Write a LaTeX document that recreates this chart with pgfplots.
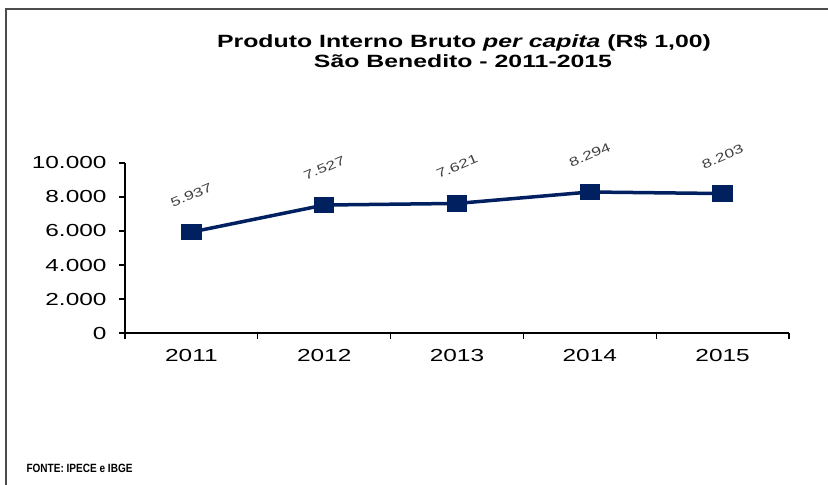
\documentclass[border=0pt]{standalone}
\usepackage{pgfplots}
\pgfplotsset{compat=1.18}
\usepackage{fontspec}
\setmainfont[FakeStretch=1.4]{Liberation Sans}
\newfontfamily\footfont[FakeStretch=0.84]{Liberation Sans}
\definecolor{navy}{RGB}{0,32,96}
\definecolor{lblgray}{RGB}{64,64,64}
\begin{document}
\begin{tikzpicture}
\path[use as bounding box] (0bp,0bp) rectangle (828bp,485bp);
\draw[gray!60!black, line width=1.5bp] (6bp,0bp) -- (6bp,476bp) -- (828bp,476bp);
\node[font=\bfseries\fontsize{17.8}{21}\selectfont, anchor=base] at (464bp,437bp) {Produto Interno Bruto \textit{per capita} (R\$ 1,00)};
\node[font=\bfseries\fontsize{17.8}{21}\selectfont, anchor=base] at (463bp,417bp) {São Benedito  - 2011-2015};
\node[font=\footfont\bfseries\fontsize{12}{14}\selectfont, anchor=base west] at (23bp,13bp) {FONTE: IPECE e IBGE};
\begin{axis}[
  at={(125bp,152bp)}, anchor=south west,
  scale only axis, width=664bp, height=170bp,
  xmin=-0.5, xmax=4.5, ymin=0, ymax=10000,
  axis x line*=bottom, axis y line*=left,
  axis line style={line width=1.2bp, black},
  xtick={0,1,2,3,4}, xticklabels={2011,2012,2013,2014,2015},
  major x tick style={draw=none},
  minor xtick={-0.5,0.5,1.5,2.5,3.5,4.5},
  minor x tick style={line width=1.2bp, black},
  major y tick style={line width=1.2bp, black},
  tick align=outside,
  major tick length=6bp, minor tick length=6bp,
  ytick={0,2000,4000,6000,8000,10000},
  scaled y ticks=false,
  /pgf/number format/1000 sep={.},
  /pgf/number format/assume math mode=true,
  ticklabel style={font=\fontsize{17.5}{20}\selectfont},
  xticklabel style={yshift=-7bp},
  yticklabel style={xshift=-9bp},
  clip=false,
  nodes near coords,
  every node near coord/.append style={font=\fontsize{12.5}{14}\selectfont, text=lblgray, anchor=center, yshift=37bp, rotate=23},
]
\addplot[navy, line width=3.5bp, mark=square*, mark options={xscale=1.3, solid}, mark size=6.5bp] coordinates {
(0,5937) (1,7527) (2,7621) (3,8294) (4,8203)
};
\end{axis}
\end{tikzpicture}
\end{document}
